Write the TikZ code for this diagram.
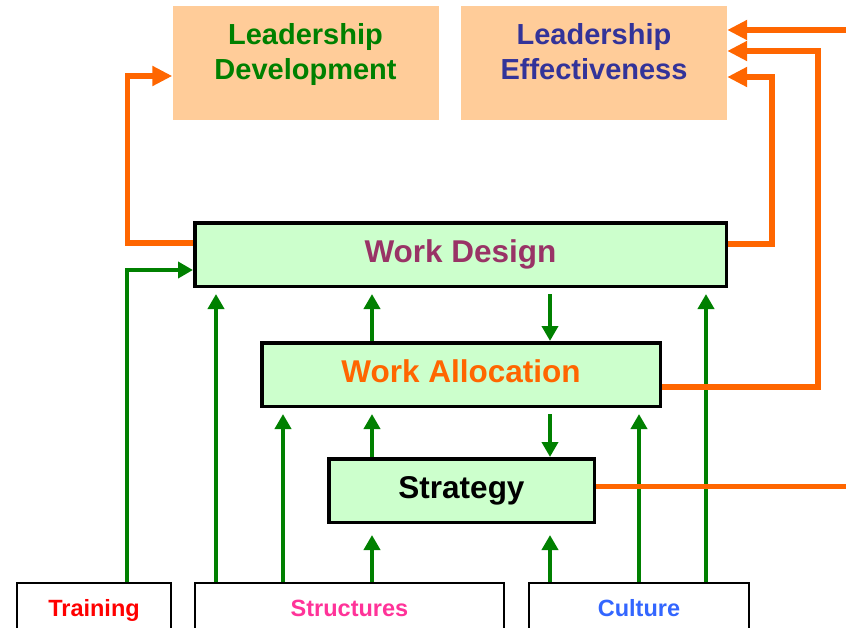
\documentclass[tikz,border=0pt]{standalone}
\usepackage{fontspec}
\setmainfont{Liberation Sans}
\usetikzlibrary{arrows.meta,calc}
\definecolor{peach}{HTML}{FFCC99}
\definecolor{mint}{HTML}{CCFFCC}
\definecolor{flow}{HTML}{008000}
\definecolor{feed}{HTML}{FF6600}
\definecolor{plum}{HTML}{993366}
\definecolor{navy}{HTML}{333399}
\definecolor{pinkish}{HTML}{FF3399}
\definecolor{skyblue}{HTML}{3366FF}

\begin{document}
\begin{tikzpicture}[x=1pt,y=-1pt,
  outcome/.style={rectangle, fill=peach, minimum width=266pt, minimum height=114pt,
    inner sep=0pt, align=center, font=\bfseries\fontsize{29}{35}\selectfont,
    text height=56pt, text depth=24pt},
  level/.style={rectangle, draw=black, line width=3.5pt, fill=mint, minimum height=63.5pt,
    inner sep=0pt, font=\bfseries\fontsize{31.5}{36}\selectfont,
    text height=23pt, text depth=7pt},
  source/.style={rectangle, draw=black, line width=2pt, fill=white, minimum height=66pt,
    inner sep=0pt, font=\bfseries\fontsize{23.5}{28}\selectfont,
    text height=12pt, text depth=12pt},
  flowarrow/.style={draw=flow, line width=3.8pt, -{Triangle[length=15pt,width=16pt]}},
  feedarrow/.style={draw=feed, line width=5.5pt, -{Triangle[length=20pt,width=19pt]}},
]
\useasboundingbox (0,0) rectangle (846,627);
\clip (0,0) rectangle (846,627);

% outcomes
\node[outcome, text=flow] (ld) at (305.5,63) {Leadership\\Development};
\node[outcome, text=navy] (le) at (594,63) {Leadership\\Effectiveness};

% stacked levels
\node[level, text=plum, minimum width=531.5pt] (wd) at (460.5,254.5) {Work Design};
\node[level, text=feed, minimum width=398.5pt] (wa) at (461,374.5) {Work Allocation};
\node[level, text=black, minimum width=265.5pt] (stg) at (461.5,490.5) {Strategy};

% sources along the bottom
\node[source, text=red, minimum width=154pt] (tr) at (94,616) {Training};
\node[source, text=pinkish, minimum width=309pt] (su) at (349.5,616) {Structures};
\node[source, text=skyblue, minimum width=220pt] (cu) at (639,616) {Culture};

% arrow columns
\coordinate (ca) at (216,0);
\coordinate (cb) at (283,0);
\coordinate (cc) at (372,0);
\coordinate (cd) at (550,0);
\coordinate (ce) at (639,0);
\coordinate (cf) at (706,0);
\coordinate (leIn) at (860,30);
\coordinate (stOut) at (860,486.5);

% green influence arrows
\draw[flowarrow] ($(tr.north)+(33,0)$) |- ($(wd.west)+(0,15.5)$);
\draw[flowarrow, shorten >=6pt] (ca |- su.north) -- (ca |- wd.south);
\draw[flowarrow, shorten >=6pt] (cb |- su.north) -- (cb |- wa.south);
\draw[flowarrow, shorten >=11pt] (cc |- su.north) -- (cc |- stg.south);
\draw[flowarrow, shorten >=6pt] (cc |- stg.north) -- (cc |- wa.south);
\draw[flowarrow, shorten >=6pt] (cc |- wa.north) -- (cc |- wd.south);
\draw[flowarrow, shorten <=6pt] (cd |- wd.south) -- (cd |- wa.north);
\draw[flowarrow, shorten <=6pt] (cd |- wa.south) -- (cd |- stg.north);
\draw[flowarrow, shorten >=11pt] (cd |- cu.north) -- (cd |- stg.south);
\draw[flowarrow, shorten >=6pt] (ce |- cu.north) -- (ce |- wa.south);
\draw[flowarrow, shorten >=6pt] (cf |- cu.north) -- (cf |- wd.south);

% orange feedback arrows
\draw[feedarrow] ($(wd.north west)+(0,22)$) -| ($(ld.west)+(-45,13)$) -- ($(ld.west)+(0,13)$);
\draw[feedarrow] ($(wd.north east)+(0,23)$) -| ($(le.east)+(45,14)$) -- ($(le.east)+(0,14)$);
\draw[feedarrow] ($(wa.east)+(0,12.5)$) -| ($(le.east)+(91,-12)$) -- ($(le.east)+(0,-12)$);
\draw[feedarrow] (leIn) -- ($(le.east)+(0,-33)$);
\draw[draw=feed, line width=5.5pt] ($(stg.east)+(0,-4)$) -- (stOut);
\end{tikzpicture}
\end{document}
